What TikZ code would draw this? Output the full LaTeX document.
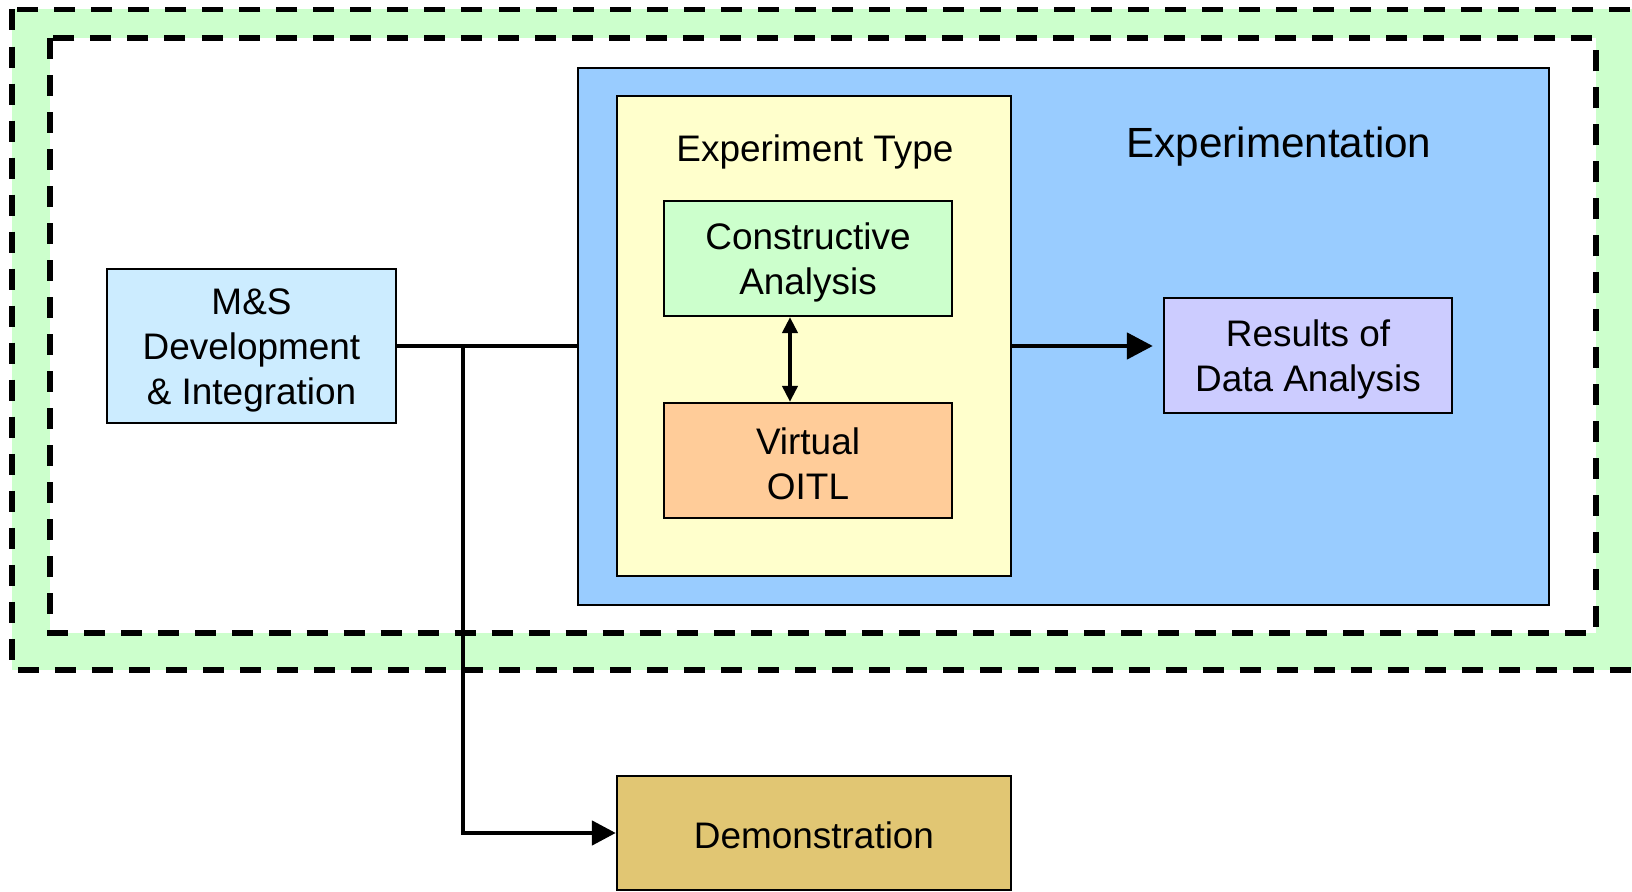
\documentclass[tikz,border=0pt]{standalone}
\usepackage{fontspec}
\setmainfont{Liberation Sans}
\usetikzlibrary{arrows.meta}

\definecolor{bandgreen}{HTML}{CCFFCC}
\definecolor{expblue}{HTML}{99CCFF}
\definecolor{typeyellow}{HTML}{FFFFCC}
\definecolor{constrgreen}{HTML}{CCFFCC}
\definecolor{virtorange}{HTML}{FFCC99}
\definecolor{msblue}{HTML}{CCECFF}
\definecolor{reslilac}{HTML}{CCCCFF}
\definecolor{demogold}{HTML}{E1C673}

\newcommand{\toppad}{\rule{0pt}{9.7pt}}

\tikzset{
	box/.style={draw, line width=0.6pt, align=center, inner sep=0pt,
		font=\fontsize{10.5}{12.8}\selectfont},
	link/.style={line width=1.35pt},
	frame/.style={line width=1.45pt, dash pattern=on 0.21cm off 0.16cm},
}

\begin{document}
\begin{tikzpicture}[x=0.01cm, y=-0.01cm]
	\useasboundingbox (0,0) rectangle (1632,892);
%	\draw[style=help lines, step=100] (0,0) grid (1632,892);
	%Box coordinate
	\coordinate (mspos) at (251.5,346) ;
	\coordinate (exppos) at (1063.5,336.5) ;
	\coordinate (typepos) at (814,336) ;
	\coordinate (constrpos) at (808,258.5) ;
	\coordinate (virtpos) at (808,460.5) ;
	\coordinate (respos) at (1308,355.5) ;
	\coordinate (demopos) at (814,833) ;
	\coordinate (split) at (463,346) ;

	%Frames
	\fill[bandgreen] (12,9.5) rectangle (1660,670);
	\fill[white] (50,38) rectangle (1596,633);
	\draw[frame] (12,9.5) rectangle (1660,670);
	\draw[frame] (50,38) rectangle (1596,633);

	%Boxes
	\node[box, fill=msblue, minimum width=2.89cm, minimum height=1.54cm] (ms) at (mspos)
		{\toppad M\&S\\Development\\\& Integration};
	\node[box, fill=expblue, minimum width=9.71cm, minimum height=5.37cm] (exp) at (exppos) {};
	\node[box, fill=typeyellow, minimum width=3.94cm, minimum height=4.80cm] (type) at (typepos) {};
	\node[box, fill=constrgreen, minimum width=2.88cm, minimum height=1.15cm] (constr) at (constrpos)
		{\toppad Constructive\\Analysis};
	\node[box, fill=virtorange, minimum width=2.88cm, minimum height=1.15cm] (virt) at (virtpos)
		{\toppad Virtual\\OITL};
	\node[box, fill=reslilac, minimum width=2.88cm, minimum height=1.15cm] (res) at (respos)
		{\toppad Results of\\Data Analysis};
	\node[box, fill=demogold, minimum width=3.94cm, minimum height=1.14cm] (demo) at (demopos)
		{\rule{0pt}{8.7pt}Demonstration};

	%Titles
	\node[font=\fontsize{12}{14}\selectfont] (exptitle) at (1279,147) {Experimentation};
	\node[font=\fontsize{10.5}{12.8}\selectfont] (typetitle) at (815,152) {Experiment Type};

	%Lines
	\draw[link] (ms.east) -- (ms.east -| exp.west);%to experimentation
	\draw[link, -{Triangle[length=0.24cm, width=0.24cm]}] (split) |- (demo.west);%demonstration
	\draw[link, shorten >=0.1cm, -{Triangle[length=0.26cm, width=0.26cm]}]
		(ms.east -| type.east) -- (ms.east -| res.west);%results
	\draw[link, {Triangle[length=0.16cm, width=0.15cm]}-{Triangle[length=0.16cm, width=0.15cm]}]
		([xshift=-0.18cm]constr.south) -- ([xshift=-0.18cm]virt.north);%constr-virt
\end{tikzpicture}
\end{document}
